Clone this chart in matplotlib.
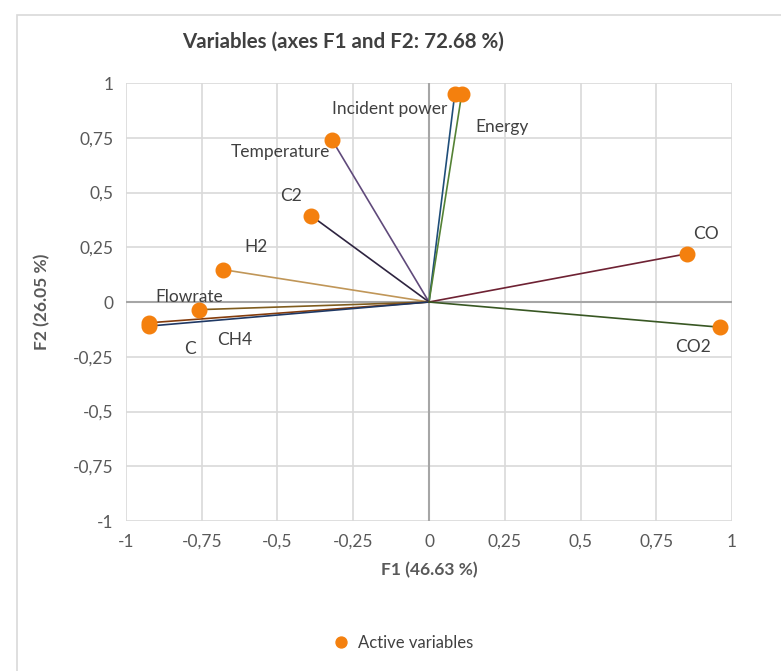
import numpy as np
import matplotlib.pyplot as plt
from matplotlib.patches import Rectangle

plt.rcParams['font.family'] = ['Lato', 'DejaVu Sans']

# PCA loadings on F1 / F2
variables = ["Incident power", "Energy", "Temperature", "C2", "H2",
             "Flowrate", "CH4", "C", "CO", "CO2"]
f1 = [0.085, 0.108, -0.32, -0.39, -0.68, -0.76, -0.925, -0.925, 0.85, 0.96]
f2 = [0.950, 0.950, 0.74, 0.395, 0.148, -0.035, -0.095, -0.110, 0.22, -0.115]
line_colors = ["#1F4E79", "#548235", "#604A7B", "#2E2440", "#C09658",
               "#7F5C1E", "#843C0C", "#1F3864", "#6E2233", "#385723"]

# where the labels sit (data coords)
label_pos = [(-0.13, 0.88), (0.24, 0.80), (-0.49, 0.685), (-0.455, 0.484),
             (-0.57, 0.251), (-0.79, 0.023), (-0.64, -0.174), (-0.79, -0.215),
             (0.915, 0.311), (0.87, -0.205)]

ticks = [-1, -0.75, -0.5, -0.25, 0, 0.25, 0.5, 0.75, 1]
tick_labels = ["-1", "-0,75", "-0,5", "-0,25", "0", "0,25", "0,5", "0,75", "1"]


def main():
    fig = plt.figure(figsize=(7.81, 6.71), dpi=100)
    fig.patches.append(Rectangle((0.0218, -0.01), 1.0, 0.9876, transform=fig.transFigure,
                                 fill=False, edgecolor="#d9d9d9", linewidth=1.2))
    ax = fig.add_axes([0.1613, 0.2235, 0.776, 0.6528])

    for x, y, c in zip(f1, f2, line_colors):
        ax.plot([0, x], [0, y], color=c, linewidth=1.2, zorder=3)
    ax.plot(f1, f2, linestyle="none", marker="o", markersize=10.5,
            color="#F4800E", zorder=4, label="Active variables")

    for name, (lx, ly) in zip(variables, label_pos):
        ax.text(lx, ly, name, ha="center", va="center", fontsize=12.5, color="#404040", zorder=5)

    ax.set_xlim(-1, 1)
    ax.set_ylim(-1, 1)
    ax.set_xticks(ticks)
    ax.set_xticklabels(tick_labels)
    ax.set_yticks(ticks)
    ax.set_yticklabels(tick_labels)
    ax.tick_params(length=0, labelsize=12.5, labelcolor="#595959", pad=9)
    ax.grid(True, color="#d9d9d9", linewidth=1.2, zorder=0)
    ax.set_axisbelow(True)
    for s in ax.spines.values():
        s.set_visible(False)
    ax.axhline(0, color="#a6a6a6", linewidth=1.5, zorder=1)
    ax.axvline(0, color="#a6a6a6", linewidth=1.5, zorder=1)

    ax.set_xlabel("F1 (46.63 %)", fontsize=12.5, fontweight="bold", color="#595959", labelpad=9)
    ax.set_ylabel("F2 (26.05 %)", fontsize=12.5, fontweight="bold", color="#595959", labelpad=16)

    fig.text(343 / 781, 1 - 42 / 671, "Variables (axes F1 and F2: 72.68 %)", ha="center",
             va="center", fontsize=14.8, fontweight="bold", color="#404040")

    fig.legend(loc="center", bbox_to_anchor=(399 / 781, 1 - 643 / 671), frameon=False,
               fontsize=12, handletextpad=0.0, markerscale=0.75, labelcolor="#404040")

    fig.savefig("out.png", dpi=100)
    plt.close(fig)


if __name__ == "__main__":
    main()
